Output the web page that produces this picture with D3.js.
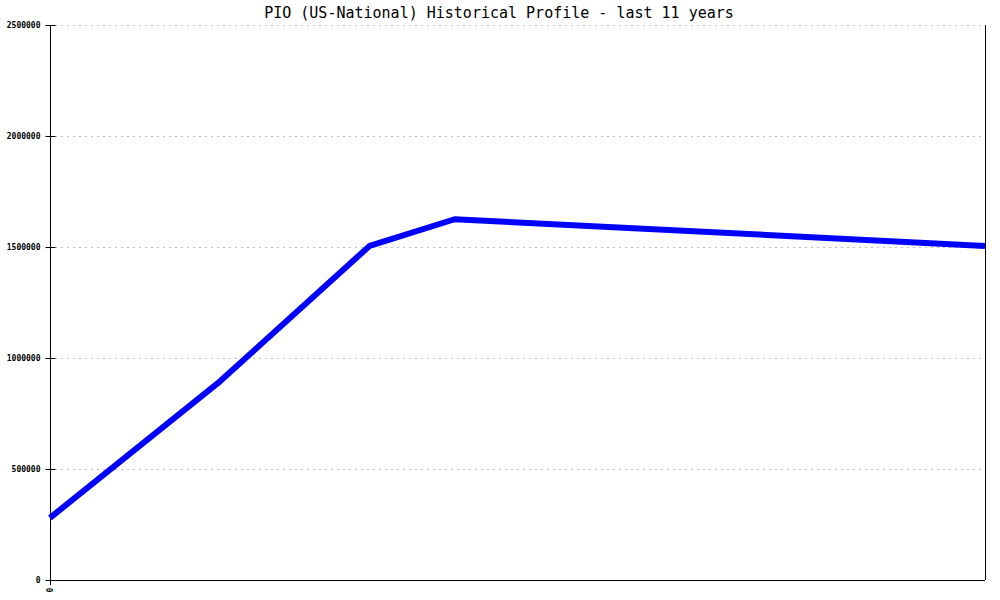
<!DOCTYPE html>
<html><head><meta charset="utf-8">
<script src="https://cdn.jsdelivr.net/npm/d3@7/dist/d3.min.js"></script>
<style>body{margin:0;background:#fff}</style>
</head><body>
<svg id="c" width="1000" height="600"></svg>
<script>
const titleText = "PIO (US-National) Historical Profile - last 11 years";
const xPositions = [0, 2, 3.76, 4.76, 11];
const values = [280000, 895000, 1505000, 1625000, 1505000];
const yTicks = [0, 500000, 1000000, 1500000, 2000000, 2500000];
const xTickLabels = ["0"];

const svg = d3.select("#c");
const m = {l:50, r:985, t:25, b:580};
const x = d3.scaleLinear().domain([0, 11]).range([m.l, m.r]);
const y = d3.scaleLinear().domain([0, 2500000]).range([m.b, m.t]);

svg.append("rect").attr("width",1000).attr("height",600).attr("fill","#fff");

// gridlines
svg.append("g").selectAll("line").data(yTicks.filter(d=>d>0)).join("line")
  .attr("x1", m.l+5).attr("x2", m.r)
  .attr("y1", d=>y(d)+0.5).attr("y2", d=>y(d)+0.5)
  .attr("stroke","#bbb").attr("stroke-dasharray","2,4");

// y axis
const ya = svg.append("g").attr("transform",`translate(${m.l+0.5},0)`)
  .call(d3.axisLeft(y).tickValues(yTicks).tickSize(5).tickFormat(d3.format("d")));
ya.select(".domain").remove();
ya.selectAll(".tick line").attr("x1",-5).attr("x2",5).attr("stroke","#000");
ya.selectAll(".tick text").attr("x",-10).attr("font-family","'DejaVu Sans Mono', monospace")
  .attr("font-size","8px").attr("font-weight","bold").attr("fill","#000");
svg.append("line").attr("x1",m.l+0.5).attr("x2",m.l+0.5).attr("y1",m.t).attr("y2",m.b+5).attr("stroke","#000");

// x axis
svg.append("line").attr("x1",m.l).attr("x2",m.r).attr("y1",m.b+0.5).attr("y2",m.b+0.5).attr("stroke","#000");
svg.append("line").attr("x1",m.r+0.5).attr("x2",m.r+0.5).attr("y1",m.t).attr("y2",m.b).attr("stroke","#000");
svg.append("g").selectAll("text").data(xTickLabels).join("text")
  .attr("transform",(d,i)=>`translate(${x(i)+3},590) rotate(-90)`)
  .attr("text-anchor","middle")
  .attr("font-family","'DejaVu Sans Mono', monospace").attr("font-size","8px").attr("font-weight","bold")
  .text(d=>d);

// line
const line = d3.line().x((d,i)=>x(xPositions[i])).y(d=>y(d));
svg.append("path").datum(values).attr("d",line)
  .attr("fill","none").attr("stroke","#0000ff").attr("stroke-width",6).attr("stroke-linejoin","round");

// title
svg.append("text").attr("x",499).attr("y",18).attr("text-anchor","middle")
  .attr("font-family","'DejaVu Sans Mono', monospace").attr("font-size","15px")
  .text(titleText);
</script>
</body></html>
